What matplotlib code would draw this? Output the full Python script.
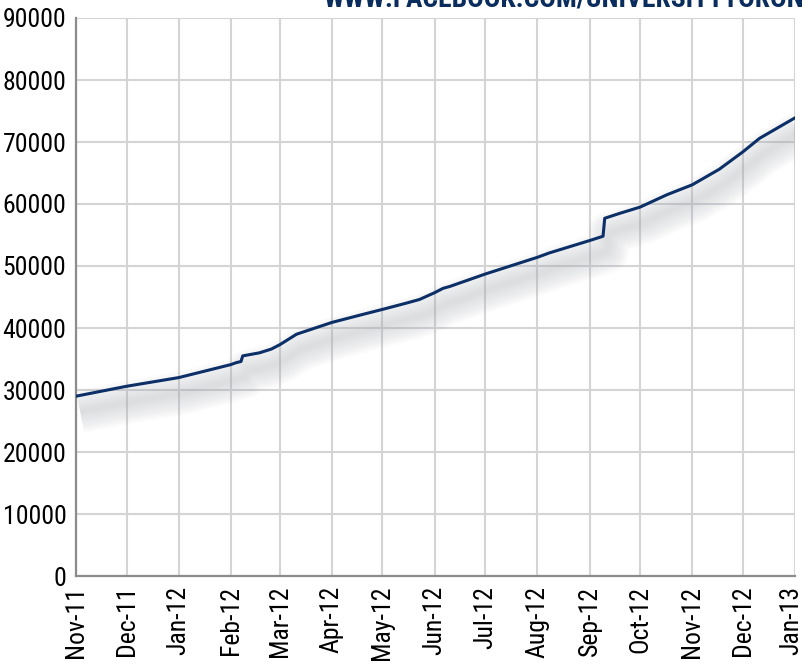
import pandas as pd
import matplotlib.pyplot as plt
import matplotlib.dates as mdates
import matplotlib.transforms as mtransforms

plt.rcParams['font.family'] = ['Roboto Condensed', 'Archivo Narrow', 'PT Sans Narrow',
                               'Barlow Condensed', 'DejaVu Sans']

# fans over time
dates = ['2011-11-01', '2011-12-01', '2012-01-01', '2012-02-01', '2012-02-04',
         '2012-02-07', '2012-02-08', '2012-02-18', '2012-02-25', '2012-03-01',
         '2012-03-11', '2012-04-01', '2012-04-18', '2012-05-01', '2012-05-15',
         '2012-05-23', '2012-06-01', '2012-06-06', '2012-06-10', '2012-07-01',
         '2012-08-01', '2012-08-08', '2012-09-01', '2012-09-09', '2012-09-10',
         '2012-09-19', '2012-10-01', '2012-10-17', '2012-11-01', '2012-11-17',
         '2012-12-01', '2012-12-11', '2013-01-01']
fans = [29000, 30600, 32000, 34100, 34400,
        34600, 35500, 36000, 36600, 37300,
        39000, 40900, 42100, 43000, 44000,
        44600, 45700, 46400, 46700, 48700,
        51400, 52100, 54100, 54800, 57700,
        58500, 59500, 61500, 63100, 65600,
        68400, 70600, 73900]
tick_dates = pd.date_range('2011-11-01', '2013-01-01', freq='MS')

x = pd.to_datetime(dates)
navy = '#0b2f66'

fig = plt.figure(figsize=(8.05, 6.65), dpi=100)
ax = fig.add_axes([76/805, 1-576/665, 719/805, 558/665])

# soft shadow under the line
for i in range(14):
    lw = 3 + i * 2.2
    tr = mtransforms.offset_copy(ax.transData, fig=fig, x=3, y=-11, units='points')
    ax.plot(x, fans, color='#a4a8ae', lw=lw, alpha=0.028,
            solid_capstyle='butt', solid_joinstyle='round', transform=tr, zorder=1)

ax.plot(x, fans, color=navy, lw=2.2, zorder=3)

ax.set_xlim(tick_dates[0], tick_dates[-1])
ax.set_ylim(0, 90000)
ax.set_yticks(range(0, 90001, 10000))
ax.set_xticks(tick_dates)
ax.xaxis.set_major_formatter(mdates.DateFormatter('%b-%y'))
ax.grid(True, color='#d4d4d4', lw=1.5, zorder=0)
ax.set_axisbelow(True)
ax.tick_params(length=0, labelsize=18.5, pad=7)
ax.tick_params(axis='x', rotation=90)

# keep the last date label inside the picture
last = ax.get_xticklabels()[-1]
last.set_transform(last.get_transform() +
                   mtransforms.ScaledTranslation(-4/100, 0, fig.dpi_scale_trans))

for s in ['top', 'right']:
    ax.spines[s].set_visible(False)
for s in ['left', 'bottom']:
    ax.spines[s].set_color('#8c8c8c')
    ax.spines[s].set_linewidth(1.6)

fig.text(323/805, 1-13/665, 'WWW.FACEBOOK.COM/UNIVERSITYTORONTO', color='#0a2d5e',
         fontsize=19.8, fontweight='bold', ha='left', va='bottom')

fig.savefig('out.png', dpi=100)
